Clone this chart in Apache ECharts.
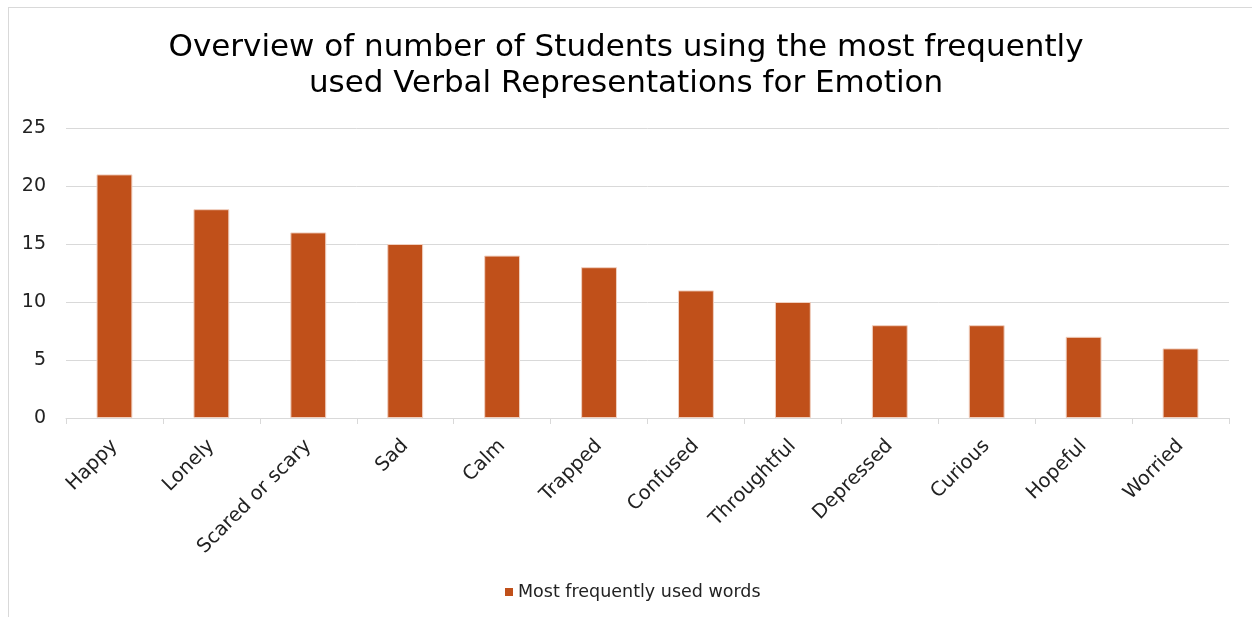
<!DOCTYPE html>
<html><head><meta charset="utf-8">
<script src="https://cdn.jsdelivr.net/npm/echarts@6/dist/echarts.min.js"></script>
<style>html,body{margin:0;padding:0;background:#fff}#c{width:1252px;height:617px}</style>
</head><body><div id="c"></div>
<script>
const categories = ["Happy","Lonely","Scared or scary","Sad","Calm","Trapped","Confused","Throughtful","Depressed","Curious","Hopeful","Worried"];
const values = [21,18,16,15,14,13,11,10,8,8,7,6];
const seriesName = "Most frequently used words";
const titleText = "Overview of number of Students using the most frequently\nused Verbal Representations for Emotion";
const FONT = "DejaVu Sans";
const chart = echarts.init(document.getElementById('c'));
chart.setOption({
  animation:false,
  textStyle:{fontFamily:FONT},
  title:{text:titleText,left:'center',top:25,textStyle:{fontFamily:FONT,fontSize:31,fontWeight:'normal',color:'#000',lineHeight:36}},
  graphic:[
    {type:'line',shape:{x1:8,y1:7.5,x2:1252,y2:7.5},style:{stroke:'#d9d9d9',lineWidth:1}},
    {type:'line',shape:{x1:8.5,y1:7,x2:8.5,y2:617},style:{stroke:'#d9d9d9',lineWidth:1}}
  ],
  legend:{bottom:16,left:505,itemWidth:8,itemHeight:8,itemGap:10,icon:'rect',padding:0,
    itemStyle:{borderWidth:0},
    textStyle:{fontFamily:FONT,fontSize:17.5,color:'#222'},data:[seriesName]},
  grid:{left:66,right:23,top:128,bottom:199,containLabel:false},
  xAxis:{type:'category',data:categories,
    axisLine:{lineStyle:{color:'#d9d9d9'}},
    axisTick:{show:true,length:6,lineStyle:{color:'#d9d9d9'}},
    axisLabel:{rotate:45,fontSize:19.5,color:'#222',fontFamily:FONT,margin:25,interval:0}},
  yAxis:{type:'value',min:0,max:25,interval:5,
    axisLine:{show:false},axisTick:{show:false},
    splitLine:{lineStyle:{color:'#d9d9d9'}},
    axisLabel:{fontSize:19,color:'#222',fontFamily:FONT,margin:20}},
  series:[{name:seriesName,type:'bar',data:values,barWidth:'37%',
    itemStyle:{color:'#C0501A',borderColor:'#f0d0c0',borderWidth:1}}]
});
</script></body></html>
